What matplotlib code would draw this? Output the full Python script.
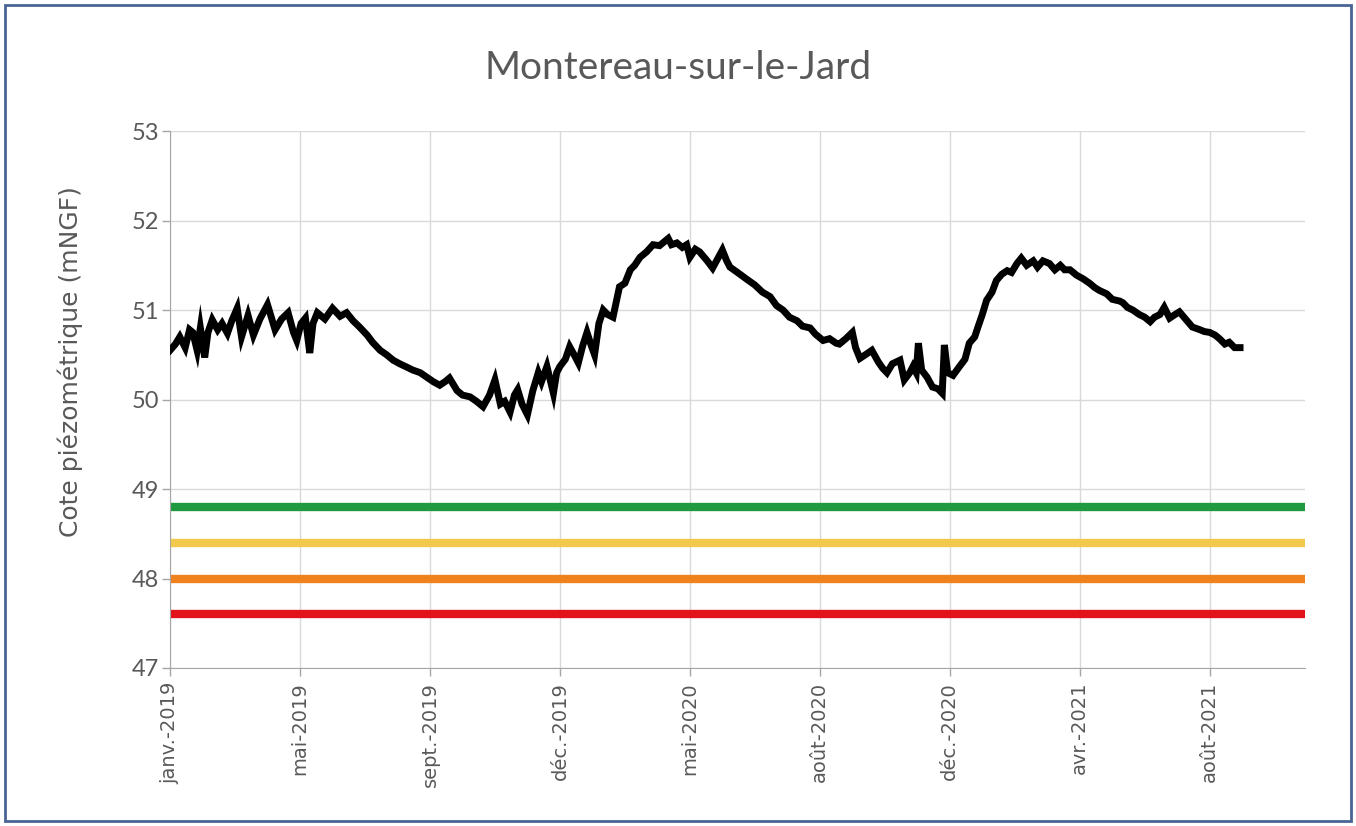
import matplotlib.pyplot as plt
from matplotlib.patches import Rectangle

# jours depuis le debut de la serie / cote piezometrique (mNGF)
jours = [0, 5, 9, 14, 18, 21, 25, 28, 32, 35, 39, 44, 48, 53, 57, 62, 66, 72, 77, 83,
         90, 97, 103, 109, 114, 117, 121, 125, 129, 132, 136, 143, 150, 157, 163, 169,
         175, 182, 187, 194, 200, 206, 212, 219, 224, 231, 237, 243, 249, 254, 258, 265,
         270, 277, 283, 289, 295, 300, 305, 309, 314, 318, 321, 325, 330, 335, 340, 343,
         348, 354, 357, 360, 365, 369, 374, 377, 381, 385, 389, 392, 396, 400, 404, 409,
         413, 415, 420, 425, 429, 434, 440, 446, 452, 460, 463, 468, 473, 477, 480, 485,
         489, 496, 501, 506, 510, 514, 517, 524, 533, 540, 547, 554, 560, 566, 572, 579,
         584, 591, 596, 603, 609, 615, 618, 624, 630, 633, 637, 642, 648, 654, 658, 662,
         667, 674, 678, 683, 686, 689, 691, 694, 699, 704, 709, 713, 715, 718, 723, 729,
         734, 738, 743, 746, 750, 754, 759, 763, 768, 773, 777, 782, 786, 791, 797, 801,
         806, 812, 817, 822, 826, 831, 837, 843, 849, 854, 858, 865, 870, 877, 880, 884,
         889, 895, 900, 905, 909, 914, 918, 923, 928, 932, 939, 944, 951, 955, 960, 965,
         969, 974, 978, 983, 988]
cote = [50.55, 50.62, 50.70, 50.58, 50.78, 50.75, 50.55, 50.80, 50.47, 50.75, 50.89, 50.78,
        50.85, 50.74, 50.88, 51.02, 50.70, 50.94, 50.72, 50.90, 51.06, 50.78, 50.90, 50.97,
        50.75, 50.66, 50.85, 50.91, 50.52, 50.85, 50.97, 50.90, 51.02, 50.93, 50.97, 50.88,
        50.81, 50.72, 50.64, 50.55, 50.50, 50.44, 50.40, 50.36, 50.33, 50.30, 50.25, 50.20,
        50.16, 50.20, 50.24, 50.10, 50.05, 50.03, 49.98, 49.92, 50.05, 50.22, 49.95, 49.98,
        49.86, 50.05, 50.11, 49.95, 49.83, 50.10, 50.30, 50.20, 50.37, 50.07, 50.30, 50.37,
        50.45, 50.59, 50.48, 50.41, 50.60, 50.75, 50.60, 50.50, 50.85, 51.00, 50.95, 50.92,
        51.15, 51.26, 51.30, 51.45, 51.50, 51.59, 51.65, 51.73, 51.72, 51.80, 51.73, 51.75,
        51.70, 51.73, 51.59, 51.68, 51.65, 51.55, 51.47, 51.58, 51.67, 51.55, 51.48, 51.42,
        51.34, 51.28, 51.20, 51.15, 51.05, 51.00, 50.92, 50.88, 50.82, 50.80, 50.73, 50.66,
        50.68, 50.63, 50.62, 50.68, 50.75, 50.58, 50.46, 50.50, 50.55, 50.42, 50.35, 50.30,
        50.40, 50.44, 50.22, 50.30, 50.37, 50.30, 50.63, 50.33, 50.25, 50.14, 50.12, 50.07,
        50.61, 50.30, 50.27, 50.37, 50.45, 50.63, 50.70, 50.81, 50.95, 51.11, 51.20, 51.33,
        51.40, 51.44, 51.42, 51.52, 51.58, 51.50, 51.55, 51.48, 51.55, 51.52, 51.45, 51.50,
        51.45, 51.45, 51.39, 51.35, 51.30, 51.25, 51.22, 51.18, 51.12, 51.10, 51.08, 51.03,
        51.00, 50.95, 50.92, 50.87, 50.92, 50.95, 51.03, 50.91, 50.95, 50.98, 50.88, 50.81,
        50.78, 50.76, 50.75, 50.72, 50.68, 50.62, 50.64, 50.58, 50.58]

# seuils (vigilance, alerte, alerte renforcee, crise)
seuils = [48.8, 48.4, 48.0, 47.6]
seuil_couleurs = ['#1f9a3f', '#f2c94c', '#f0821e', '#e3131b']

tick_jours = [0, 120, 240, 360, 480, 600, 720, 840, 960]
tick_labels = ['janv.-2019', 'mai-2019', 'sept.-2019', 'déc.-2019', 'mai-2020',
               'août-2020', 'déc.-2020', 'avr.-2021', 'août-2021']

gris = '#595959'

fig = plt.figure(figsize=(13.56, 8.26), dpi=100)
ax = fig.add_axes([0.1254, 0.1913, 0.837, 0.650])

x_fin = 1048
for s, c in zip(seuils, seuil_couleurs):
    ax.plot([0, x_fin], [s, s], color=c, lw=6, solid_capstyle='butt', zorder=2)

ax.plot(jours, cote, color='black', lw=5, solid_joinstyle='miter', zorder=3)

ax.set_xlim(0, x_fin)
ax.set_ylim(47, 53)
ax.set_yticks([47, 48, 49, 50, 51, 52, 53])
ax.set_xticks(tick_jours)
ax.set_xticklabels(tick_labels, rotation=90, fontsize=14, color=gris,
                   family='DejaVu Sans')
for lab in ax.get_yticklabels():
    lab.set_fontsize(17)
    lab.set_color(gris)
    lab.set_family('Lato')

ax.grid(True, color='#d9d9d9', lw=1)
ax.set_axisbelow(True)
for side in ['top', 'right']:
    ax.spines[side].set_visible(False)
for side in ['left', 'bottom']:
    ax.spines[side].set_color('#a6a6a6')
ax.tick_params(axis='both', colors='#a6a6a6', length=6, width=1)
ax.tick_params(axis='y', labelcolor=gris, pad=2)
ax.tick_params(axis='x', labelcolor=gris, pad=4)

ax.set_ylabel('Cote piézométrique (mNGF)', fontsize=18, color=gris)
ax.yaxis.set_label_coords(-0.077, 0.57)

fig.text(0.5, 0.918, 'Montereau-sur-le-Jard', ha='center', va='center',
         fontsize=28, color=gris, family='Lato')

fig.patches.append(Rectangle((0.004, 0.006), 0.992, 0.988, transform=fig.transFigure,
                             fill=False, edgecolor='#4a6494', lw=2))

fig.savefig('out.png', dpi=100)
